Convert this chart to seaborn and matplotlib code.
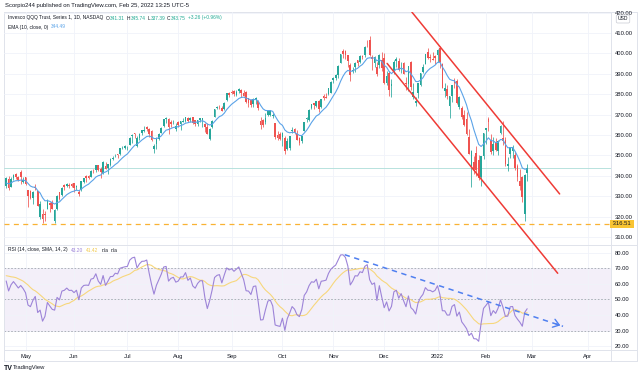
import numpy as np
import pandas as pd
import seaborn as sns
import matplotlib.pyplot as plt

# ---- QQQ daily bars (21 Apr 2021 .. 25 Feb 2022) ----
holidays = ["2021-04-02", "2021-05-31", "2021-07-05", "2021-09-06", "2021-11-25",
            "2021-12-24", "2022-01-17", "2022-02-21", "2022-04-15"]

# closes before the visible window, only used to warm up EMA / RSI
warmup_close = [322.6, 317.5, 308.1, 303.3, 308.2, 299.0, 310.6, 309.4, 317.5, 315.3,
                318.7, 320.3, 321.5, 311.6, 313.4, 317.8, 315.6, 310.1, 309.4, 313.6,
                313.0, 311.0, 319.1,
                324.9, 331.4, 331.1, 331.3, 334.7, 337.7, 337.0, 340.8, 336.6, 341.3,
                342.0, 338.9, 335.6]

opens = [
    334.9, 338.5, 334.6, 338.9, 341.1, 339.6, 342.0, 336.9,
    339.4, 333.0, 332.6, 329.3, 334.4, 332.3, 319.9, 321.3, 321.4, 323.8, 326.7, 327.2, 318.0, 323.6, 331.8, 330.4, 335.5, 335.1, 335.3, 336.0,
    336.3, 334.3, 332.2, 332.8, 336.9, 339.8, 339.8, 339.6, 342.9, 343.0, 345.3, 343.2, 341.3, 345.0, 343.7, 345.3, 348.4, 350.0, 350.5, 350.7, 353.9, 353.7,
    354.5, 355.3, 359.6, 360.9, 354.8, 358.4, 361.1, 361.9, 364.1, 362.9, 361.8, 353.3, 355.6, 357.9, 360.9, 364.4, 367.7, 368.0, 366.3, 365.8, 362.9,
    366.4, 365.3, 366.4, 367.1, 368.2, 367.5, 368.8, 367.3, 365.4, 367.4, 367.5, 365.5, 364.1, 358.2, 363.9, 368.8, 373.4, 374.4, 373.4, 372.7, 377.1, 380.7,
    380.9, 381.6, 379.8, 381.6, 382.3, 380.8, 381.3, 378.2, 377.3, 375.0, 377.0, 376.9, 366.7, 367.1, 366.4, 369.6, 369.6, 369.4, 365.7, 360.0, 360.3,
    359.1, 358.3, 352.9, 353.7, 362.0, 363.1, 360.4, 358.5, 357.2, 362.1, 367.6, 367.4, 373.2, 375.5, 374.3, 376.5, 373.8, 379.3, 378.6, 380.1, 380.5,
    386.8, 388.0, 389.3, 395.4, 401.2, 401.2, 399.1, 394.5, 391.5, 393.4, 396.8, 395.8, 398.9, 399.4, 404.6, 406.5, 398.0, 395.2, 393.3, 394.3, 396.6,
    397.8, 385.3, 390.2, 383.9, 391.1, 396.3, 396.1, 395.1, 395.5, 385.6, 385.2, 396.0, 378.5, 375.7, 380.4, 384.6, 390.7, 394.9, 400.6, 398.1, 397.3, 398.5,
    399.0, 402.7, 395.0, 381.8, 382.6, 374.3, 378.9, 386.8, 386.5, 373.5, 373.3, 370.0, 368.0, 359.0, 344.8, 346.6, 351.3, 347.8, 339.6, 349.9,
    362.2, 368.0, 357.4, 352.1, 356.0, 352.0, 361.2, 358.5, 357.5, 344.9, 350.9, 352.0, 350.2, 344.9, 337.2, 339.2, 321.5, 341.31,
]
highs = [
    339.2, 339.9, 339.4, 340.8, 341.2, 340.0, 342.8, 339.4,
    339.5, 333.2, 333.2, 332.3, 336.1, 332.5, 327.5, 323.8, 322.9, 328.7, 327.2, 328.2, 323.7, 330.5, 332.1, 334.6, 335.9, 336.3, 336.5, 336.5,
    336.5, 335.6, 333.1, 337.5, 338.9, 340.2, 340.6, 342.6, 343.1, 345.4, 345.4, 344.2, 347.4, 346.7, 345.8, 348.6, 349.6, 350.7, 350.6, 353.7, 354.6, 354.9,
    354.8, 358.8, 360.4, 361.0, 359.4, 361.0, 362.5, 364.4, 364.5, 363.2, 362.6, 355.8, 359.1, 360.8, 364.0, 368.0, 368.6, 368.1, 367.5, 367.4, 365.7,
    366.9, 367.0, 368.2, 369.0, 368.9, 368.9, 368.9, 367.5, 367.3, 368.3, 368.5, 365.7, 366.0, 363.6, 367.5, 372.9, 374.2, 374.8, 374.2, 376.1, 380.5, 380.9,
    381.9, 381.9, 382.0, 382.8, 382.4, 382.1, 381.8, 378.3, 377.7, 378.0, 378.4, 377.1, 368.8, 368.0, 370.6, 372.3, 372.4, 370.9, 366.1, 361.9, 361.4,
    361.6, 359.3, 358.3, 359.7, 364.0, 363.3, 362.6, 359.0, 359.5, 366.6, 368.7, 372.5, 375.2, 375.9, 376.9, 377.0, 377.7, 380.1, 380.7, 383.0, 386.3,
    388.3, 390.0, 394.5, 399.9, 402.0, 401.5, 399.2, 395.5, 393.2, 395.8, 397.0, 399.0, 399.4, 403.6, 406.7, 408.7, 399.1, 398.8, 395.8, 399.7, 400.8,
    400.0, 391.6, 391.6, 387.6, 396.9, 398.0, 397.6, 395.9, 396.0, 388.3, 394.0, 396.2, 385.5, 378.4, 385.7, 390.4, 394.6, 399.8, 402.5, 399.6, 400.6, 399.0,
    402.0, 403.5, 395.5, 385.7, 384.3, 379.3, 384.5, 388.0, 387.5, 379.0, 374.4, 372.1, 371.5, 363.1, 352.6, 349.7, 354.7, 350.0, 349.8, 361.0,
    363.5, 369.0, 360.6, 359.1, 358.5, 357.6, 365.0, 366.8, 359.1, 349.2, 354.1, 355.1, 351.7, 346.0, 343.2, 339.9, 341.0, 345.74,
]
lows = [
    334.0, 332.9, 334.4, 338.1, 338.4, 337.3, 335.9, 336.5,
    335.3, 324.5, 328.6, 326.3, 332.9, 325.2, 318.8, 316.6, 318.0, 323.6, 322.4, 323.7, 316.6, 323.4, 327.9, 330.2, 332.8, 334.3, 333.9, 334.6,
    332.0, 332.9, 330.0, 332.6, 336.3, 336.9, 338.5, 339.2, 341.2, 342.0, 342.4, 338.9, 340.9, 343.2, 341.0, 344.6, 347.9, 349.3, 348.5, 350.4, 353.2, 353.2,
    352.8, 355.2, 356.3, 358.5, 353.9, 357.4, 360.1, 361.3, 362.0, 358.9, 356.9, 351.3, 353.3, 357.7, 360.8, 364.1, 366.0, 360.5, 363.9, 365.4, 362.1,
    363.9, 362.5, 366.2, 366.4, 366.4, 366.4, 365.3, 364.6, 364.5, 366.6, 363.8, 361.6, 360.4, 357.4, 363.2, 368.6, 372.6, 372.9, 371.7, 372.3, 376.8, 378.4,
    380.3, 378.9, 379.2, 380.8, 378.8, 378.9, 375.8, 373.9, 373.8, 373.8, 375.2, 372.3, 363.0, 364.0, 365.6, 369.3, 369.4, 368.2, 358.2, 357.3, 357.7,
    354.8, 350.9, 352.7, 352.5, 361.0, 360.3, 357.4, 355.2, 356.1, 361.8, 366.2, 366.9, 372.5, 372.8, 373.9, 371.5, 373.0, 377.0, 378.2, 379.4, 380.5,
    385.5, 387.2, 388.0, 395.1, 397.8, 397.5, 393.5, 386.7, 390.4, 391.1, 393.7, 395.4, 397.5, 398.4, 403.1, 398.6, 392.1, 393.4, 388.9, 392.7, 391.5,
    385.2, 384.3, 378.9, 378.4, 390.0, 393.4, 391.4, 390.4, 389.8, 382.3, 381.8, 382.1, 377.8, 374.1, 378.3, 384.0, 390.5, 394.6, 397.3, 395.7, 396.6, 395.0,
    396.0, 392.6, 383.0, 378.8, 377.5, 368.4, 376.0, 383.0, 375.2, 372.5, 367.8, 364.3, 359.9, 350.5, 334.7, 341.0, 339.9, 337.8, 334.9, 348.3,
    355.8, 362.0, 350.9, 350.0, 352.3, 350.4, 360.5, 355.2, 344.7, 342.2, 348.9, 348.8, 343.0, 337.6, 333.2, 327.0, 318.0, 337.39,
]
closes = [
    338.9, 334.2, 338.3, 340.6, 339.2, 337.7, 339.2, 337.9,
    336.1, 330.2, 329.3, 332.1, 334.1, 325.3, 326.4, 318.7, 320.9, 328.2, 325.9, 323.7, 323.2, 330.1, 328.7, 334.1, 334.6, 336.0, 334.9, 335.0,
    334.0, 335.2, 331.2, 337.2, 338.7, 338.9, 338.8, 342.2, 342.6, 345.3, 343.0, 341.9, 346.7, 343.3, 345.6, 348.3, 348.4, 350.3, 350.1, 353.5, 354.0, 354.4,
    354.6, 358.6, 360.2, 360.7, 358.3, 360.7, 362.3, 362.4, 363.1, 360.3, 357.4, 354.6, 358.1, 360.6, 363.5, 367.9, 368.3, 364.0, 365.5, 366.0, 364.6,
    365.1, 367.0, 367.0, 369.0, 367.1, 368.1, 366.1, 365.5, 367.2, 368.2, 368.2, 364.0, 360.4, 362.9, 366.7, 372.6, 373.8, 374.2, 371.8, 375.9, 380.4, 379.8,
    380.6, 379.9, 381.1, 382.4, 380.8, 379.2, 376.0, 375.9, 374.9, 377.8, 378.0, 373.2, 365.0, 365.1, 368.4, 371.7, 372.1, 369.7, 359.0, 358.4, 358.0,
    360.8, 352.2, 356.9, 359.4, 362.4, 360.9, 357.5, 356.3, 359.3, 366.4, 368.5, 372.4, 375.0, 374.8, 376.8, 372.8, 377.6, 377.9, 378.3, 382.8, 386.1,
    387.9, 389.5, 394.0, 399.6, 399.8, 399.0, 396.3, 389.2, 391.7, 395.5, 395.4, 398.5, 398.2, 403.0, 404.4, 399.0, 397.1, 398.0, 390.0, 399.2, 392.7,
    385.4, 389.1, 382.1, 385.0, 396.0, 397.4, 391.7, 395.4, 390.1, 385.2, 393.6, 383.3, 381.0, 376.8, 385.7, 390.3, 393.2, 399.8, 397.8, 397.7, 396.7, 397.9,
    401.7, 396.0, 383.0, 382.9, 378.9, 379.0, 384.4, 385.6, 375.8, 378.4, 368.6, 364.8, 360.4, 350.6, 352.0, 343.2, 342.9, 338.9, 349.7, 360.8,
    363.3, 366.2, 351.5, 355.8, 352.6, 356.9, 364.3, 356.9, 345.7, 345.9, 354.0, 354.2, 343.8, 339.2, 335.1, 329.4, 340.5, 343.75,
]

month_labels = ["May", "Jun", "Jul", "Aug", "Sep", "Oct", "Nov", "Dec", "2022", "Feb", "Mar", "Apr"]
price_ticks = [310, 320, 330, 340, 350, 360, 370, 380, 390, 400, 410, 420]
rsi_ticks = [20, 30, 40, 50, 60, 70, 80]
support_level = 316.51
last_price = 343.75

# drawings: (bar index, value) anchors
upper_channel = ([167.4, 228.4], [420.3, 331.1])
lower_channel = ([157.2, 227.6], [395.1, 292.2])
rsi_trend = ([139.7, 229.8], [78.7, 32.8])

# ---- indicators ----
days = pd.bdate_range("2021-03-01", "2022-04-29")
days = days[~days.isin(pd.to_datetime(holidays))]
start = len(warmup_close)
n = len(closes)

all_close = pd.Series(warmup_close + closes, dtype=float)
ema = all_close.ewm(span=10, adjust=False).mean()
delta = all_close.diff().fillna(0)
gain = delta.clip(lower=0).ewm(alpha=1 / 14, adjust=False).mean()
loss = (-delta.clip(upper=0)).ewm(alpha=1 / 14, adjust=False).mean()
rsi = 100 - 100 / (1 + gain / loss)
rsi_ma = rsi.rolling(14).mean()

df = pd.DataFrame({
    "bar": np.arange(n), "date": days[start:start + n],
    "open": opens, "high": highs, "low": lows, "close": closes,
    "ema": ema.values[start:], "rsi": rsi.values[start:], "rsi_ma": rsi_ma.values[start:],
})
df["up"] = df["close"] >= df["open"]

vis_days = days[start:]
firsts = pd.Series(np.arange(len(vis_days)), index=vis_days)
firsts = firsts.groupby([vis_days.year, vis_days.month]).first().values[1:]

# ---- figure ----
sns.set_theme(style="white")
plt.rcParams["font.family"] = ["Liberation Sans", "DejaVu Sans"]
W, H = 640, 377
FS = 4.2
DARK = "#131722"
GRID = "#f0f3fa"
SEP = "#e0e3eb"
UP, DOWN = "#26a69a", "#ef5350"

fig = plt.figure(figsize=(6.4, 3.77), dpi=100)
fig.patch.set_facecolor("white")


def box(x0, y0, x1, y1):
    return [x0 / W, 1 - y1 / H, (x1 - x0) / W, (y1 - y0) / H]


ax = fig.add_axes(box(4, 12, 611, 244.5))
ax2 = fig.add_axes(box(4, 245.5, 611, 350), sharex=ax)
# price pane on top so the channel line can run over the RSI pane
ax.set_zorder(3)
ax.patch.set_visible(False)

for a in (ax, ax2):
    for s in a.spines.values():
        s.set_visible(False)
    a.set_xticks(firsts)
    a.grid(True, color=GRID, lw=0.6)
    a.set_axisbelow(True)
    a.yaxis.tick_right()
    a.tick_params(axis="both", length=0, labelsize=FS, colors=DARK, pad=3)

ax.set_xlim(-0.9, 249.6)
ax.set_ylim(306.3, 420.3)
ax.set_yticks(price_ticks)
ax.set_yticklabels([f"{v:.2f}" for v in price_ticks])
ax.tick_params(axis="x", labelbottom=False)

# candles
cols = np.where(df["up"], UP, DOWN)
ax.vlines(df["bar"], df["low"], df["high"], colors=cols, lw=0.55, zorder=2)
body_lo = np.minimum(df["open"], df["close"])
body_h = np.maximum(np.abs(df["close"] - df["open"]), 0.2)
ax.bar(df["bar"], body_h, bottom=body_lo, width=0.7, color=cols, linewidth=0, zorder=3)

sns.lineplot(data=df, x="bar", y="ema", ax=ax, color="#5ba3e8", lw=0.8, zorder=4)
ax.axhline(last_price, color="#b7e2dd", lw=0.7, zorder=1)
ax.axhline(support_level, color="#f9b233", lw=0.9, ls=(0, (4, 3.5)), zorder=1)
ax.plot(*upper_channel, color="#ef3b36", lw=1.1, zorder=5)
ax.plot(*lower_channel, color="#ef3b36", lw=1.1, zorder=5, clip_on=False)
ax.set_xlabel("")
ax.set_ylabel("")

ax.text(1.0, support_level, " 316.51 ", transform=ax.get_yaxis_transform(), ha="left",
        va="center", fontsize=FS, color=DARK,
        bbox=dict(boxstyle="square,pad=0.25", fc="#f9c433", ec="none"))

# RSI pane
ax2.set_ylim(17.6, 84.6)
ax2.set_yticks(rsi_ticks)
ax2.set_yticklabels([f"{v:.2f}" for v in rsi_ticks])
ax2.set_xticklabels(month_labels)
ax2.axhspan(30, 70, color="#7e57c2", alpha=0.09, lw=0, zorder=0)
for lvl in (70, 50, 30):
    ax2.axhline(lvl, color="#a3a6af", lw=0.6, ls=(0, (2, 2)), zorder=1)
sns.lineplot(data=df, x="bar", y="rsi_ma", ax=ax2, color="#f7d77c", lw=0.8, zorder=3)
sns.lineplot(data=df, x="bar", y="rsi", ax=ax2, color="#9d84d8", lw=0.8, zorder=4)
ax2.plot(*rsi_trend, color="#4f7ff0", lw=1.1, ls=(0, (3.5, 3)), zorder=5)
ax2.annotate("", xy=(rsi_trend[0][1], rsi_trend[1][1]),
             xytext=(rsi_trend[0][1] - 4, rsi_trend[1][1] + 2.04),
             arrowprops=dict(arrowstyle="->,head_length=0.35,head_width=0.25",
                             color="#4f7ff0", lw=1.0))
ax2.set_xlabel("")
ax2.set_ylabel("")

# frame and separators
lines = [((4, 637), (11.5, 11.5)), ((4, 637), (361, 361)), ((4, 4), (11.5, 361)),
         ((637, 637), (11.5, 361)), ((611, 611), (11.5, 361)), ((4, 637), (245, 245)),
         ((4, 637), (350, 350))]
for xs, ys in lines:
    fig.add_artist(plt.Line2D([x / W for x in xs], [1 - y / H for y in ys],
                              color=SEP, lw=0.7))

# texts
renderer = fig.canvas.get_renderer()


def fit_size(x, parts, end):
    # font size at which the run spans from x to end, as in the screenshot
    gaps = sum(g for _, _, g in parts)
    natural = 0
    for s, _, _ in parts:
        t = fig.text(0, 0, s, fontsize=10)
        natural += t.get_window_extent(renderer).width
        t.remove()
    return 10 * (end - x - gaps) / natural


def text_run(x, y, parts, size):
    for s, c, gap in parts:
        t = fig.text(x / W, 1 - y / H, s, fontsize=size, color=c, va="center", ha="left")
        x += t.get_window_extent(renderer).width + gap


TEAL = "#22ab94"
header = [("Scorpio244 published on TradingView.com, Feb 25, 2022 13:25 UTC-5", DARK, 0)]
legend1 = [("Invesco QQQ Trust, Series 1, 1D, NASDAQ", DARK, 2.5),
           ("O", DARK, 0.3), ("341.31", TEAL, 2), ("H", DARK, 0.3), ("345.74", TEAL, 2),
           ("L", DARK, 0.3), ("337.39", TEAL, 2), ("C", DARK, 0.3), ("343.75", TEAL, 2.5),
           ("+3.26 (+0.96%)", TEAL, 0)]
legend_fs = fit_size(8, legend1, 222)

text_run(5, 6, header, fit_size(5, header, 189))
text_run(8, 18, legend1, legend_fs)
text_run(8, 27, [("EMA (10, close, 0)", DARK, 3), ("344.49", "#5ba3e8", 0)], legend_fs)
text_run(8, 250, [("RSI (14, close, SMA, 14, 2)", DARK, 3), ("43.20", "#9d84d8", 3),
                  ("41.42", "#f2c94c", 3), ("n/a", DARK, 3), ("n/a", DARK, 0)], legend_fs)
fig.text(623 / W, 1 - 19 / H, "USD", fontsize=3.6, color=DARK, ha="center", va="center",
         bbox=dict(boxstyle="round,pad=0.3", fc="white", ec="#c8cad2", lw=0.5))
fig.text(4 / W, 1 - 368 / H, "TV", fontsize=5, color=DARK, va="center", fontweight="bold")
fig.text(13 / W, 1 - 368 / H, "TradingView", fontsize=FS, color=DARK, va="center")

fig.savefig("out.png", dpi=100)
